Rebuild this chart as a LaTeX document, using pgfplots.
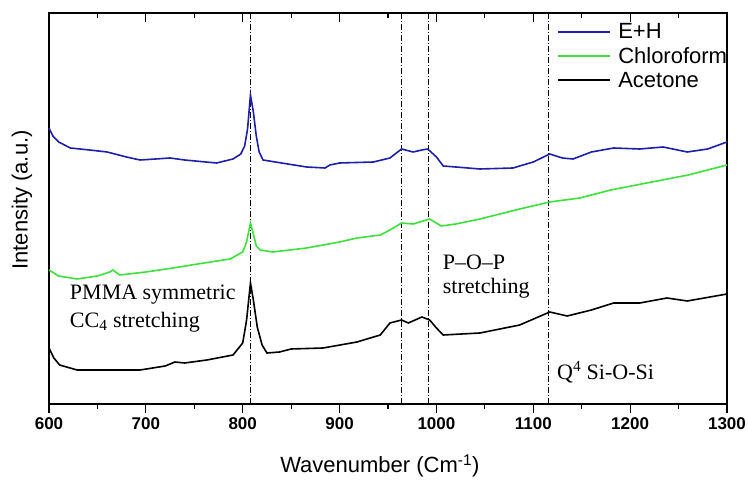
\documentclass[border=0pt]{standalone}
\usepackage{fontspec}
\setmainfont{Liberation Sans}
\newfontfamily\serifrm[Ligatures=TeX]{Liberation Serif}
\usepackage{pgfplots}
\pgfplotsset{compat=1.18}
\definecolor{ehblue}{RGB}{30,30,170}
\definecolor{chlgreen}{RGB}{60,225,60}

\pgfplotsset{
  vline/.style={black, line width=0.8pt, dash pattern=on 6pt off 2pt on 1pt off 2pt, forget plot},
  ramanlegend/.style={
    legend image code/.code={\draw[##1, line width=1.5pt] (0pt,0pt) -- (52pt,0pt); \path (57pt,0pt);},
  },
}

\begin{document}
\begin{tikzpicture}
\path[use as bounding box] (-49pt,-77pt) rectangle (699pt,404pt);
\begin{axis}[
    at={(0pt,0pt)}, anchor=south west,
    scale only axis, width=678pt, height=391pt,
    xmin=600, xmax=1300, ymin=0, ymax=391,
    xtick={600,700,...,1300}, minor x tick num=1,
    ytick=\empty,
    major tick length=9pt, minor tick length=5pt,
    every tick/.style={black, line width=1.2pt},
    axis line style={line width=1.2pt},
    ramanlegend,
    xtick pos=lower, tick align=outside,
    /pgf/number format/assume math mode=true,
    /pgf/number format/1000 sep={},
    xticklabel={\textbf{\pgfmathprintnumber{\tick}}},
    xticklabel style={font=\fontsize{17}{20}\selectfont\bfseries, yshift=-1pt},
    xlabel={Wavenumber (Cm\textsuperscript{-1})},
    xlabel style={at={(axis description cs:0.488,-0.159)}, anchor=center, font=\fontsize{22}{26}\selectfont},
    ylabel={Intensity (a.u.)},
    ylabel style={at={(axis description cs:-0.040,0.522)}, anchor=center, font=\fontsize{22}{26}\selectfont},
    legend style={draw=none, fill=none, at={(axis description cs:0.750,0.978)}, anchor=north west,
      font=\fontsize{22}{24}\selectfont, row sep=3pt, inner sep=0pt},
    legend cell align=left,
    clip=false, unbounded coords=jump,
]
% peak positions
\addplot[vline] coordinates {(808,0) (808,391)};
\addplot[vline] coordinates {(964,0) (964,391)};
\addplot[vline] coordinates {(992,0) (992,391)};
\addplot[vline] coordinates {(1116,0) (1116,391)};

% top and right frame, with inward top ticks (y unit = 1pt)
\addplot[black, line width=1.2pt, forget plot] coordinates {(600,391) (1300,391) (1300,0)};
\addplot[black, line width=1.2pt, forget plot] coordinates {
 (700,391) (700,382) (nan,nan) (800,391) (800,382) (nan,nan) (900,391) (900,382) (nan,nan)
 (1000,391) (1000,382) (nan,nan) (1100,391) (1100,382) (nan,nan) (1200,391) (1200,382) (nan,nan)
 (650,391) (650,386) (nan,nan) (750,391) (750,386) (nan,nan) (850,391) (850,386) (nan,nan)
 (950,391) (950,386) (nan,nan) (1050,391) (1050,386) (nan,nan) (1150,391) (1150,386) (nan,nan)
 (1250,391) (1250,386)
};

% E+H
\addplot[ehblue, line width=1.6pt] coordinates {
 (600,276) (604,268) (610,262) (622,256) (642,254) (660,252) (680,247) (694,244)
 (710,245) (725,246) (740,244) (773,241) (790,245) (798,250) (802,258) (805,275)
 (808,309) (811,292) (814,268) (817,252) (821,244) (840,241) (866,237) (885,236)
 (890,239) (900,241) (935,242) (952,246) (964,255) (976,252) (985,254) (991,255)
 (1000,247) (1007,238) (1020,237) (1045,235) (1079,236) (1100,242) (1117,250)
 (1130,246) (1141,245) (1160,252) (1183,256) (1210,255) (1234,257) (1259,252)
 (1280,255) (1300,262)
};
% Chloroform
\addplot[chlgreen, line width=1.6pt] coordinates {
 (600,134) (610,128) (629,125) (650,128) (663,132) (666,134) (673,129) (700,132)
 (728,136) (760,141) (787,145) (800,152) (804,162) (808,181) (811,170) (814,158)
 (818,154) (831,152) (866,156) (900,162) (918,166) (942,169) (952,174) (964,181)
 (976,180) (993,185) (1005,178) (1020,180) (1045,185) (1086,195) (1117,202)
 (1148,206) (1180,214) (1217,221) (1260,229) (1300,239)
};
% Acetone
\addplot[black, line width=1.6pt] coordinates {
 (600,56) (605,46) (611,39) (629,34) (660,34) (694,34) (720,38) (730,42) (740,41)
 (763,44) (790,49) (800,61) (804,84) (808,121) (811,104) (815,77) (820,59) (825,51)
 (838,52) (850,55) (883,56) (918,62) (942,69) (952,81) (964,84) (971,81) (985,87)
 (993,84) (1000,76) (1007,69) (1045,71) (1086,79) (1117,92) (1135,88) (1160,94)
 (1183,101) (1210,101) (1238,106) (1259,103) (1300,110)
};
\legend{E+H, Chloroform, Acetone}

\node[anchor=west, font=\serifrm\fontsize{22}{26}\selectfont] at (axis cs:618,109) {PMMA symmetric};
\node[anchor=west, font=\serifrm\fontsize{22}{26}\selectfont] at (axis cs:618,82) {CC\textsubscript{4} stretching};
\node[anchor=west, font=\serifrm\fontsize{22}{26}\selectfont] at (axis cs:1003,142) {P–O–P};
\node[anchor=west, font=\serifrm\fontsize{22}{26}\selectfont] at (axis cs:1003,116) {stretching};
\node[anchor=west, font=\serifrm\fontsize{22}{26}\selectfont] at (axis cs:1121,32) {Q\textsuperscript{4} Si-O-Si};
\end{axis}
\end{tikzpicture}
\end{document}
